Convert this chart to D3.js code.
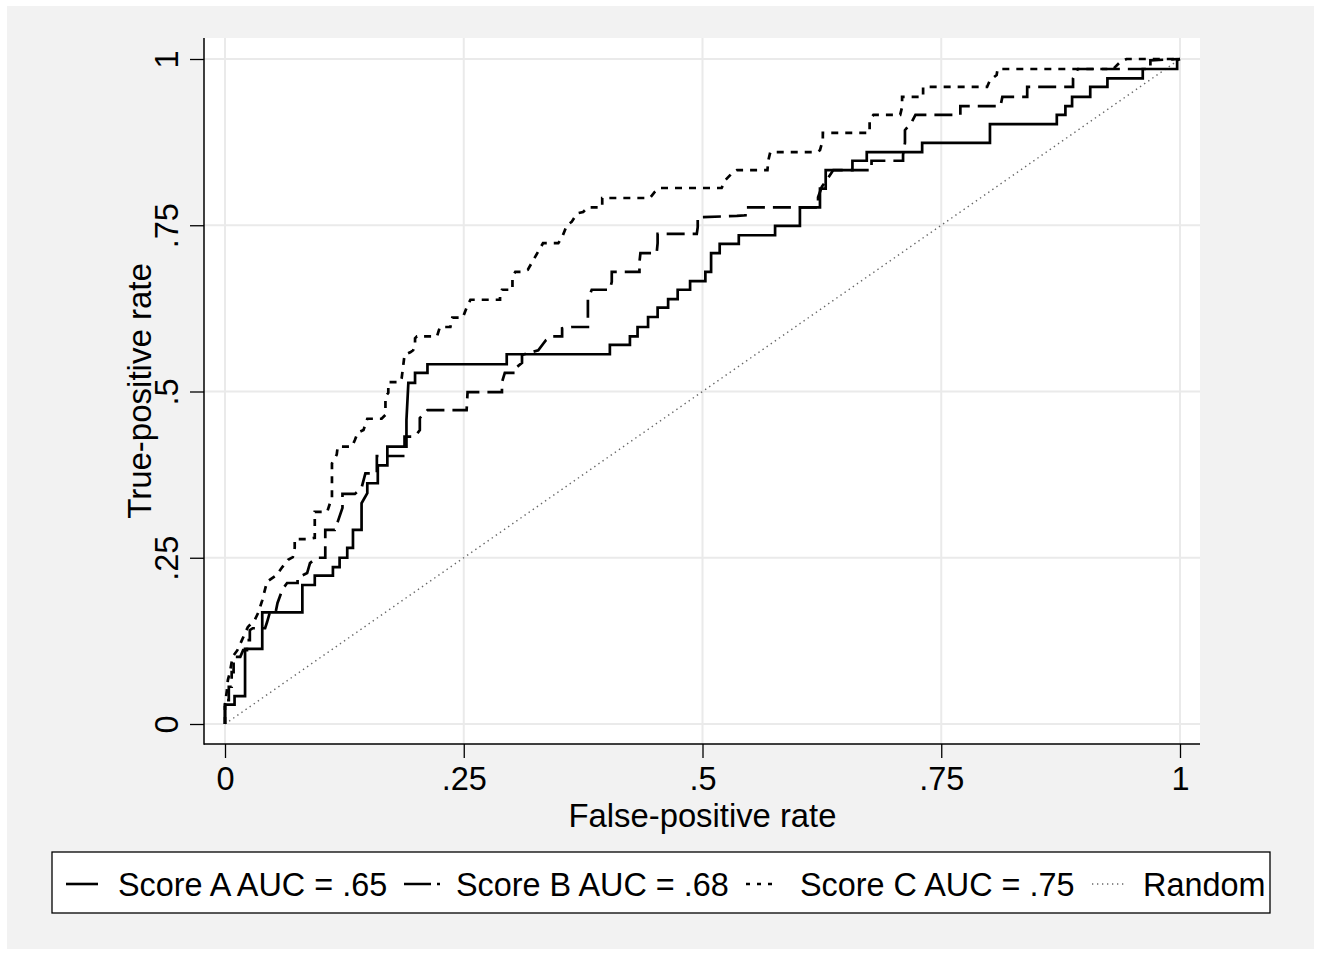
<!DOCTYPE html>
<html>
<head>
<meta charset="utf-8">
<script src="https://cdn.jsdelivr.net/npm/d3@7"></script>
<style>
  html, body { margin: 0; padding: 0; background: #ffffff; }
  svg { display: block; }
  text { font-family: "Liberation Sans", Arial, Helvetica, sans-serif; fill: #000; }
</style>
</head>
<body>
<svg id="chart" width="1321" height="954"></svg>
<script>
// ---- data (false-positive rate, true-positive rate) ----
const scoreA = [
  [0,0],[0,0.029],[0.010,0.029],[0.010,0.042],[0.021,0.042],[0.021,0.113],[0.039,0.113],[0.039,0.168],
  [0.081,0.168],[0.081,0.209],[0.094,0.209],[0.094,0.223],[0.113,0.223],[0.113,0.236],[0.120,0.236],
  [0.120,0.250],[0.128,0.250],[0.128,0.265],[0.134,0.265],[0.134,0.292],[0.143,0.292],[0.143,0.332],
  [0.149,0.347],[0.149,0.362],[0.160,0.362],[0.160,0.389],[0.170,0.389],[0.170,0.417],[0.190,0.417],
  [0.190,0.457],[0.192,0.513],[0.199,0.513],[0.199,0.528],[0.212,0.528],[0.212,0.541],[0.295,0.541],
  [0.295,0.556],[0.403,0.556],[0.403,0.570],[0.424,0.570],[0.424,0.583],[0.432,0.583],[0.432,0.597],
  [0.443,0.597],[0.443,0.612],[0.453,0.612],[0.453,0.626],[0.464,0.626],[0.464,0.639],[0.474,0.639],
  [0.474,0.653],[0.487,0.653],[0.487,0.666],[0.503,0.666],[0.503,0.680],[0.509,0.680],[0.509,0.708],
  [0.518,0.708],[0.518,0.722],[0.538,0.722],[0.538,0.735],[0.576,0.735],[0.576,0.749],[0.602,0.749],
  [0.602,0.777],[0.623,0.777],[0.623,0.805],[0.629,0.805],[0.629,0.833],[0.657,0.833],[0.657,0.847],
  [0.672,0.847],[0.672,0.860],[0.730,0.860],[0.730,0.874],[0.801,0.874],[0.801,0.902],[0.871,0.902],
  [0.871,0.916],[0.880,0.916],[0.880,0.929],[0.887,0.929],[0.887,0.943],[0.906,0.943],[0.906,0.958],
  [0.924,0.958],[0.924,0.971],[0.961,0.971],[0.961,0.985],[0.997,0.985],[0.997,0.998],[1,1]
];
const scoreB = [
  [0,0],[0,0.036],[0.004,0.036],[0.004,0.056],[0.007,0.056],[0.007,0.078],[0.009,0.078],[0.009,0.101],
  [0.016,0.101],[0.019,0.111],[0.023,0.111],[0.023,0.126],[0.026,0.126],[0.026,0.141],[0.029,0.144],
  [0.042,0.144],[0.044,0.153],[0.047,0.168],[0.053,0.168],[0.055,0.182],[0.060,0.202],[0.065,0.212],
  [0.076,0.212],[0.076,0.220],[0.086,0.227],[0.089,0.242],[0.096,0.250],[0.105,0.250],[0.105,0.292],
  [0.115,0.292],[0.118,0.304],[0.123,0.325],[0.123,0.346],[0.136,0.346],[0.143,0.355],[0.147,0.377],
  [0.159,0.377],[0.159,0.403],[0.188,0.403],[0.188,0.432],[0.199,0.432],[0.204,0.442],[0.204,0.460],
  [0.212,0.472],[0.253,0.472],[0.254,0.499],[0.290,0.499],[0.290,0.514],[0.293,0.528],[0.304,0.528],
  [0.304,0.535],[0.311,0.543],[0.311,0.555],[0.328,0.562],[0.336,0.577],[0.342,0.583],[0.353,0.583],
  [0.353,0.595],[0.363,0.597],[0.380,0.597],[0.380,0.638],[0.384,0.653],[0.403,0.653],[0.405,0.665],
  [0.405,0.680],[0.434,0.680],[0.434,0.695],[0.435,0.708],[0.452,0.708],[0.453,0.723],[0.453,0.737],
  [0.494,0.737],[0.495,0.747],[0.495,0.762],[0.536,0.764],[0.545,0.765],[0.545,0.777],[0.621,0.777],
  [0.621,0.792],[0.625,0.808],[0.630,0.818],[0.637,0.833],[0.677,0.833],[0.677,0.847],[0.710,0.847],
  [0.710,0.856],[0.712,0.874],[0.712,0.893],[0.719,0.905],[0.723,0.916],[0.770,0.916],[0.770,0.929],
  [0.812,0.929],[0.814,0.943],[0.840,0.943],[0.840,0.958],[0.888,0.958],[0.888,0.971],[0.893,0.985],
  [0.969,0.985],[0.969,0.998],[1,1]
];
const scoreC = [
  [0,0],[0,0.029],[0.002,0.051],[0.003,0.066],[0.005,0.077],[0.008,0.101],[0.013,0.111],[0.024,0.146],
  [0.031,0.156],[0.035,0.168],[0.039,0.186],[0.044,0.214],[0.054,0.224],[0.060,0.236],[0.066,0.247],
  [0.071,0.251],[0.073,0.265],[0.073,0.278],[0.086,0.278],[0.094,0.280],[0.094,0.319],[0.107,0.319],
  [0.112,0.341],[0.112,0.392],[0.117,0.405],[0.118,0.417],[0.133,0.417],[0.136,0.427],[0.139,0.438],
  [0.145,0.442],[0.149,0.459],[0.164,0.459],[0.168,0.465],[0.168,0.492],[0.171,0.498],[0.171,0.514],
  [0.183,0.514],[0.185,0.520],[0.188,0.555],[0.194,0.559],[0.197,0.562],[0.199,0.573],[0.199,0.580],
  [0.201,0.583],[0.222,0.583],[0.225,0.597],[0.236,0.597],[0.238,0.611],[0.249,0.611],[0.253,0.626],
  [0.257,0.638],[0.288,0.638],[0.288,0.645],[0.290,0.653],[0.301,0.653],[0.301,0.672],[0.304,0.680],
  [0.311,0.680],[0.317,0.683],[0.323,0.698],[0.327,0.708],[0.333,0.723],[0.349,0.723],[0.353,0.732],
  [0.356,0.743],[0.358,0.750],[0.363,0.755],[0.366,0.762],[0.369,0.768],[0.375,0.770],[0.380,0.777],
  [0.395,0.777],[0.395,0.791],[0.445,0.791],[0.450,0.800],[0.455,0.806],[0.520,0.806],[0.524,0.818],
  [0.532,0.830],[0.536,0.833],[0.568,0.833],[0.569,0.848],[0.571,0.860],[0.620,0.860],[0.623,0.863],
  [0.626,0.878],[0.626,0.889],[0.675,0.889],[0.675,0.908],[0.679,0.916],[0.707,0.916],[0.709,0.928],
  [0.709,0.943],[0.731,0.943],[0.731,0.958],[0.798,0.958],[0.801,0.968],[0.808,0.976],[0.809,0.985],
  [0.930,0.985],[0.937,0.995],[0.944,1.0],[1,1]
];
const randomLine = [[0,0],[1,1]];

const tickValues = [0, 0.25, 0.5, 0.75, 1];
const tickLabels = ["0", ".25", ".5", ".75", "1"];
const seriesNames = ["Score A AUC = .65", "Score B AUC = .68", "Score C AUC = .75", "Random"];
const xTitle = "False-positive rate";
const yTitle = "True-positive rate";

// ---- drawing ----
const svg = d3.select("#chart");
const W = 1321, H = 954;
const plot = { left: 204, top: 38, right: 1200, bottom: 744 };

svg.append("rect").attr("x", 0).attr("y", 0).attr("width", W).attr("height", H).attr("fill", "#ffffff");
svg.append("rect").attr("x", 7).attr("y", 6).attr("width", 1307).attr("height", 943).attr("fill", "#f2f2f2");
svg.append("rect").attr("x", plot.left).attr("y", plot.top)
  .attr("width", plot.right - plot.left).attr("height", plot.bottom - plot.top).attr("fill", "#ffffff");

const x = d3.scaleLinear().domain([0, 1]).range([225, 1180]);
const y = d3.scaleLinear().domain([0, 1]).range([724, 59]);

// gridlines
const grid = svg.append("g");
grid.selectAll(".gx").data(tickValues).join("line")
  .attr("x1", d => x(d)).attr("x2", d => x(d))
  .attr("y1", plot.top).attr("y2", plot.bottom)
  .attr("stroke", "#eaeaea").attr("stroke-width", 2);
grid.selectAll(".gy").data(tickValues).join("line")
  .attr("y1", d => y(d)).attr("y2", d => y(d))
  .attr("x1", plot.left).attr("x2", plot.right)
  .attr("stroke", "#eaeaea").attr("stroke-width", 2);

// axes
const fmt = d => tickLabels[tickValues.indexOf(d)];
const xAxis = d3.axisBottom(x).tickValues(tickValues).tickFormat(fmt).tickSize(14).tickPadding(8);
const yAxis = d3.axisLeft(y).tickValues(tickValues).tickFormat(fmt).tickSize(14).tickPadding(8);

const gx = svg.append("g").attr("transform", `translate(0,${plot.bottom})`).call(xAxis);
gx.select(".domain").remove();
gx.selectAll(".tick line").attr("stroke", "#000").attr("stroke-width", 1.3);
gx.selectAll(".tick text").attr("font-size", 32.5).attr("y", null).attr("dy", null)
  .attr("transform", "translate(0,46)").attr("font-family", "Liberation Sans, Arial, sans-serif").attr("fill", "#000");

const gy = svg.append("g").attr("transform", `translate(${plot.left},0)`).call(yAxis);
gy.select(".domain").remove();
gy.selectAll(".tick line").attr("stroke", "#000").attr("stroke-width", 1.3);
gy.selectAll(".tick text").attr("font-size", 32.5).attr("x", null).attr("dy", null)
  .attr("text-anchor", "middle").attr("transform", "translate(-26,0) rotate(-90)")
  .attr("font-family", "Liberation Sans, Arial, sans-serif").attr("fill", "#000");

svg.append("line").attr("x1", plot.left).attr("x2", plot.left).attr("y1", plot.top).attr("y2", plot.bottom + 0.7)
  .attr("stroke", "#000").attr("stroke-width", 1.5);
svg.append("line").attr("x1", plot.left).attr("x2", plot.right).attr("y1", plot.bottom).attr("y2", plot.bottom)
  .attr("stroke", "#000").attr("stroke-width", 1.5);

// titles
svg.append("text").attr("x", 702.5).attr("y", 827).attr("text-anchor", "middle")
  .attr("font-size", 32.8).text(xTitle);
svg.append("text").attr("transform", "translate(151,391) rotate(-90)").attr("text-anchor", "middle")
  .attr("font-size", 33).text(yTitle);

// lines
const line = d3.line().x(d => x(d[0])).y(d => y(d[1]));
svg.append("clipPath").attr("id", "clip").append("rect")
  .attr("x", plot.left).attr("y", plot.top).attr("width", plot.right - plot.left).attr("height", plot.bottom - plot.top);
const lines = svg.append("g").attr("clip-path", "url(#clip)");

lines.append("path").datum(randomLine).attr("d", line).attr("fill", "none")
  .attr("stroke", "#666666").attr("stroke-width", 1.4).attr("stroke-dasharray", "1.4,3.6");
lines.append("path").datum(scoreC).attr("d", line).attr("fill", "none")
  .attr("stroke", "#000").attr("stroke-width", 2.7).attr("stroke-dasharray", "7,7");
lines.append("path").datum(scoreB).attr("d", line).attr("fill", "none")
  .attr("stroke", "#000").attr("stroke-width", 2.7).attr("stroke-dasharray", "18,8");
lines.append("path").datum(scoreA).attr("d", line).attr("fill", "none")
  .attr("stroke", "#000").attr("stroke-width", 2.7);

// legend
const lg = svg.append("g");
lg.append("rect").attr("x", 52).attr("y", 852).attr("width", 1218).attr("height", 61)
  .attr("fill", "#ffffff").attr("stroke", "#000").attr("stroke-width", 1.3);
const legendItems = [
  { name: seriesNames[0], x1: 66, x2: 98, tx: 118, dash: null, color: "#000", w: 2.6 },
  { name: seriesNames[1], x1: 404, x2: 440, tx: 456, dash: "27,6,3,40", color: "#000", w: 2.6 },
  { name: seriesNames[2], x1: 746, x2: 778, tx: 800, dash: "4,7", color: "#000", w: 2.6 },
  { name: seriesNames[3], x1: 1092, x2: 1124, tx: 1143, dash: "1.3,3.7", color: "#666666", w: 1.4 }
];
legendItems.forEach(it => {
  lg.append("line").attr("x1", it.x1).attr("x2", it.x2).attr("y1", 884).attr("y2", 884)
    .attr("stroke", it.color).attr("stroke-width", it.w).attr("stroke-dasharray", it.dash);
  lg.append("text").attr("x", it.tx).attr("y", 896).attr("font-size", 32.4).text(it.name);
});
</script>
</body>
</html>
